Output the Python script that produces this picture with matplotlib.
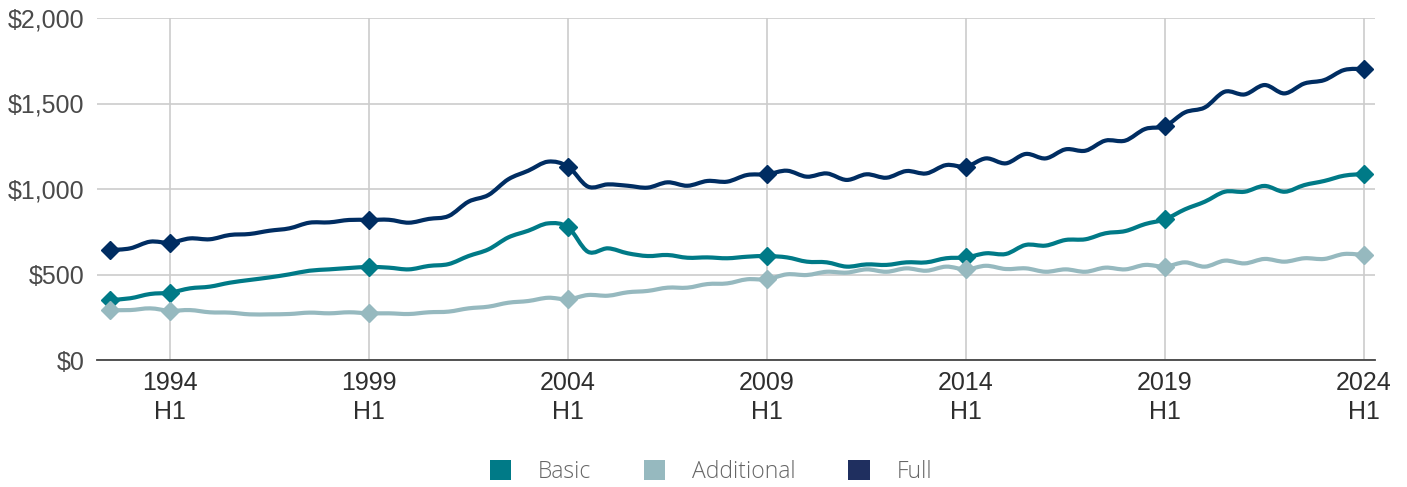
import matplotlib
matplotlib.use("Agg")
import matplotlib.pyplot as plt
from matplotlib.patches import Patch, PathPatch
from matplotlib.path import Path

# half-year periods, 1992 H2 .. 2024 H1
periods = [f"{y} H{h}" for y in range(1992, 2025) for h in (1, 2)][1:-1]

basic = [351, 361, 386, 394, 419, 429, 452, 468, 483, 501,
         522, 530, 538, 544, 540, 530, 550, 561, 608, 647,
         717, 756, 799, 776, 633, 653, 624, 608, 614, 598,
         600, 595, 604, 608, 600, 575, 571, 546, 559, 556,
         571, 571, 595, 600, 624, 620, 673, 669, 702, 706,
         741, 754, 795, 823, 881, 926, 984, 984, 1018, 984,
         1023, 1047, 1078, 1088]

additional = [292, 292, 302, 288, 292, 279, 277, 267, 267, 269,
              277, 273, 279, 273, 273, 269, 279, 283, 302, 312,
              335, 345, 364, 355, 380, 376, 396, 404, 423, 423,
              444, 448, 472, 472, 501, 497, 516, 511, 530, 516,
              536, 522, 546, 530, 551, 532, 536, 516, 530, 516,
              540, 530, 556, 546, 571, 546, 581, 565, 591, 575,
              595, 591, 620, 614]

full = [643, 653, 692, 686, 711, 706, 731, 737, 756, 770,
        803, 805, 819, 819, 820, 803, 825, 842, 926, 965,
        1057, 1107, 1160, 1131, 1014, 1027, 1019, 1008, 1039, 1019,
        1047, 1043, 1082, 1086, 1107, 1072, 1091, 1053, 1086, 1066,
        1105, 1091, 1140, 1131, 1179, 1150, 1205, 1179, 1232, 1224,
        1283, 1283, 1351, 1368, 1448, 1477, 1569, 1553, 1608, 1559,
        1617, 1637, 1696, 1702]

tick_years = [1994, 1999, 2004, 2009, 2014, 2019, 2024]
y_ticks = [0, 500, 1000, 1500, 2000]

series = [
    ("Basic", basic, "#007a87", "#007a87"),
    ("Additional", additional, "#96b9bf", "#96b9bf"),
    ("Full", full, "#002d62", "#1f2f5f"),
]


def spline_path(xs, ys):
    """Smooth bezier path through every point (Catmull-Rom style)."""
    n = len(xs)
    verts = [(xs[0], ys[0])]
    codes = [Path.MOVETO]
    for i in range(n - 1):
        x0, y0 = xs[max(i - 1, 0)], ys[max(i - 1, 0)]
        x1, y1 = xs[i], ys[i]
        x2, y2 = xs[i + 1], ys[i + 1]
        x3, y3 = xs[min(i + 2, n - 1)], ys[min(i + 2, n - 1)]
        c1 = (x1 + (x2 - x0) / 6, y1 + (y2 - y0) / 6)
        c2 = (x2 - (x3 - x1) / 6, y2 - (y3 - y1) / 6)
        verts += [c1, c2, (x2, y2)]
        codes += [Path.CURVE4] * 3
    return Path(verts, codes)


tick_idx = [periods.index(f"{y} H1") for y in tick_years]
marker_idx = [0] + tick_idx

fig = plt.figure(figsize=(14.07, 4.87), dpi=100)
ax = fig.add_axes([97 / 1407, 1 - 360 / 487, (1375 - 97) / 1407, (360 - 18) / 487])

x = list(range(len(periods)))
for name, vals, color, _ in series:
    ax.add_patch(PathPatch(spline_path(x, vals), facecolor="none",
                           edgecolor=color, lw=3.0, capstyle="round",
                           joinstyle="round", zorder=3))
    ax.plot([x[i] for i in marker_idx], [vals[i] for i in marker_idx],
            ls="none", marker="D", ms=9.5, color=color, zorder=4)

ax.set_xlim(-0.67, len(periods) - 0.45)
ax.set_ylim(0, 2000)
ax.set_yticks(y_ticks)
ax.set_yticklabels([f"${v:,}" for v in y_ticks])
ax.set_xticks(tick_idx)
ax.set_xticklabels([f"{y}\nH1" for y in tick_years], linespacing=1.25)

ax.grid(True, color="#cccccc", lw=1.2, zorder=0)
for side in ("left", "right", "top"):
    ax.spines[side].set_visible(False)
ax.spines["bottom"].set_color("#444444")
ax.spines["bottom"].set_linewidth(1.3)
ax.tick_params(axis="both", length=0, labelsize=18,
               labelfontfamily="Liberation Sans")
ax.tick_params(axis="x", pad=8, labelcolor="#2e2e2e")
ax.tick_params(axis="y", pad=9, labelcolor="#4a4a4a")

handles = [Patch(facecolor=c, edgecolor="none") for _, _, _, c in series]
fig.legend(handles, [s[0] for s in series], loc="center",
           bbox_to_anchor=(711 / 1407, 1 - 472 / 487), ncol=3, frameon=False,
           prop={"family": "Open Sans", "weight": "light", "size": 16.5},
           labelcolor="#666666", handlelength=0.92, handleheight=0.92,
           handletextpad=1.18, columnspacing=2.3)

fig.savefig("out.png", dpi=100)
